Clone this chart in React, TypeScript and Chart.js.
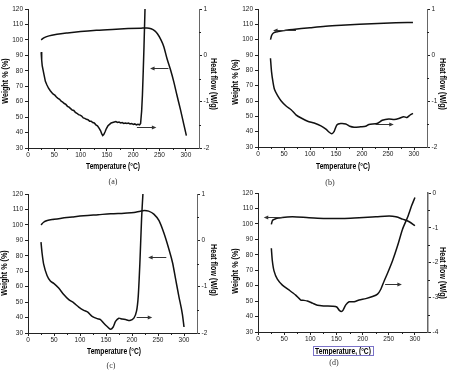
import React, { useEffect, useRef } from "react";
import { Chart, registerables } from "chart.js";

Chart.register(...registerables);

const FONT = "'Liberation Sans', Arial, Helvetica, sans-serif";

// ---- shared axis ticks ----
const temperatureTicks = [0, 50, 100, 150, 200, 250, 300];
const temperatureMinor = [25, 75, 125, 175, 225, 275];
const weightTicks = [30, 40, 50, 60, 70, 80, 90, 100, 110, 120];
const heatTicksABC = [-2, -1, 0, 1];
const heatMinorABC = [-1.5, -0.5, 0.5];
const heatTicksD = [-4, -3, -2, -1, 0];
const heatMinorD = [-3.5, -2.5, -1.5, -0.5];

// ---- (a) ----
const tempWeightA = [25, 30, 40, 55, 75, 100, 130, 160, 190, 215, 226, 234, 241, 246, 252, 258, 264, 271, 277, 283, 290, 296, 301];
const weightA = [100, 101.3, 102.6, 103.6, 104.5, 105.4, 106.2, 106.8, 107.3, 107.6, 107.7, 107.2, 105.8, 104, 100.5, 95.7, 88.1, 80.5, 73, 64.3, 54.5, 45.5, 38];
const tempHeatA = [
  25, 26, 27, 28.7, 30.5, 33, 36, 39, 42, 45, 48, 51, 54, 57, 60, 63, 66, 69, 72, 75, 78, 81, 84, 87, 90, 93, 96, 99,
  102, 105, 108, 111, 114, 117, 120, 123, 126, 129, 132, 135, 138, 140, 142, 144, 146.5, 149, 152, 155, 158, 161, 164,
  167, 170, 173, 176, 179, 182, 185, 188, 191, 194, 197, 200, 203, 206, 209, 212, 214, 216, 217.5, 219, 220.5, 222.5,
];
const heatA = [
  0.07, -0.1, -0.22, -0.32, -0.42, -0.56, -0.64, -0.71, -0.76, -0.8, -0.84, -0.86, -0.9, -0.93, -0.95, -0.99, -1.01,
  -1.04, -1.06, -1.1, -1.12, -1.15, -1.18, -1.19, -1.23, -1.25, -1.28, -1.29, -1.31, -1.35, -1.36, -1.38, -1.39, -1.42,
  -1.42, -1.45, -1.46, -1.5, -1.52, -1.57, -1.63, -1.69, -1.73, -1.71, -1.65, -1.58, -1.52, -1.49, -1.46, -1.45, -1.44,
  -1.43, -1.45, -1.44, -1.46, -1.45, -1.47, -1.46, -1.47, -1.46, -1.48, -1.47, -1.49, -1.48, -1.5, -1.49, -1.5, -1.47,
  -1.2, -0.85, -0.35, 0.2, 1.05,
];

// ---- (b) ----
const tempWeightB = [24, 26, 28, 31, 36, 42, 50, 60, 75, 100, 130, 160, 195, 230, 265, 298];
const weightB = [100, 102.5, 103.8, 104.6, 105.1, 105.5, 105.9, 106.4, 107, 107.8, 108.7, 109.4, 110.1, 110.6, 111, 111.2];
const tempHeatB = [
  24, 26, 28.7, 31.8, 38, 44.6, 54, 63.7, 73, 83, 95.5, 108, 121, 130.6, 137, 142, 146.5, 151.6, 159, 168.8, 176.4,
  184.7, 197.5, 207, 213.4, 229, 239, 251.6, 262, 270.7, 280.3, 286.6, 292, 298,
];
const heatB = [
  -0.07, -0.36, -0.58, -0.75, -0.89, -1.0, -1.11, -1.19, -1.3, -1.37, -1.44, -1.48, -1.54, -1.61, -1.68, -1.71, -1.66,
  -1.52, -1.49, -1.5, -1.55, -1.57, -1.56, -1.55, -1.51, -1.49, -1.42, -1.39, -1.4, -1.38, -1.34, -1.36, -1.31, -1.27,
];

// ---- (c) ----
const tempWeightC = [25, 30, 37, 50, 62, 85, 107, 135, 159, 185, 204, 216, 224, 232, 242, 252, 261, 271, 278, 284, 290, 297, 300];
const weightC = [100, 101.7, 102.8, 103.6, 104.2, 105.1, 105.9, 106.6, 107.2, 107.6, 108, 108.9, 109.3, 108.9, 107, 102.7, 95, 84.2, 75.5, 64.7, 53.9, 41.9, 33.9];
const tempHeatC = [
  25, 27, 30.2, 36.6, 43, 49.5, 59, 68.7, 78.4, 88, 97.6, 107.3, 115, 123.3, 133, 139.4, 145.8, 152.2, 158.6, 163.8,
  168.3, 174.7, 181, 187.5, 195.9, 203.6, 208.7, 212, 215.2, 218.4, 221, 222.5,
];
const heatC = [
  -0.04, -0.27, -0.52, -0.76, -0.88, -0.93, -1.03, -1.17, -1.28, -1.35, -1.44, -1.51, -1.55, -1.64, -1.69, -1.71, -1.79,
  -1.86, -1.92, -1.87, -1.75, -1.68, -1.7, -1.71, -1.73, -1.68, -1.53, -1.21, -0.48, 0.46, 1.0, 1.2,
];

// ---- (d) ----
const tempWeightD = [25.5, 27.4, 30, 33.8, 40, 46.6, 65.7, 97.6, 129.5, 161.5, 193.4, 225.3, 250.8, 263.6, 276.3, 289.1, 300];
const weightD = [99.7, 102, 102.8, 103.3, 103.8, 104.2, 104.6, 104, 103.5, 103.5, 104, 104.6, 105.1, 104.6, 103.1, 101.4, 98.8];
const tempHeatD = [
  25.5, 27.4, 30.6, 37, 46.6, 59.3, 72.1, 81.7, 88, 94.4, 104, 113.6, 126.4, 142.3, 150.6, 155.1, 159.5, 162.7, 167.8,
  174.2, 183.8, 193.4, 206.1, 218.9, 228.5, 234.8, 241.2, 247.6, 257.2, 266.8, 276.3, 285.9, 293.6, 300,
];
const heatD = [
  -1.59, -1.95, -2.24, -2.48, -2.65, -2.79, -2.94, -3.08, -3.09, -3.11, -3.17, -3.23, -3.25, -3.26, -3.28, -3.37, -3.41,
  -3.37, -3.22, -3.13, -3.13, -3.08, -3.04, -2.98, -2.91, -2.77, -2.53, -2.31, -1.95, -1.52, -1.04, -0.7, -0.37, -0.13,
];

const WEIGHT_TITLE = "Weight % (%)";
const HEAT_TITLE = "Heat flow (W/g)";

type Arrow = { from: [number, number]; to: [number, number] };

interface PanelSpec {
  label: string;
  left: number;
  top: number;
  width: number;
  height: number;
  area: { left: number; top: number; right: number; bottom: number };
  leftTitle: [number, number];
  rightTitle: [number, number];
  xTitleCenter: [number, number];
  labelX: number;
  labelY: number;
  xTitle: string;
  boxedXTitle?: boolean;
  weightT: number[];
  weight: number[];
  heatT: number[];
  heat: number[];
  heatTicks: number[];
  heatMinor: number[];
  arrows: Arrow[]; // in (temperature, weight %) coordinates
}

const panels: PanelSpec[] = [
  {
    label: "(a)", left: 0, top: 0, width: 226, height: 176,
    area: { left: 28, top: 9, right: 199, bottom: 148 },
    leftTitle: [6, 81], rightTitle: [213, 84], xTitleCenter: [113, 167], labelX: 113, labelY: 182,
    xTitle: "Temperature (°C)",
    weightT: tempWeightA, weight: weightA, heatT: tempHeatA, heat: heatA,
    heatTicks: heatTicksABC, heatMinor: heatMinorABC,
    arrows: [
      { from: [267, 82], to: [232, 82] },
      { from: [207, 43.7], to: [244, 43.7] },
    ],
  },
  {
    label: "(b)", left: 226, top: 0, width: 227, height: 176,
    area: { left: 32, top: 9, right: 201, bottom: 147 },
    leftTitle: [10, 82], rightTitle: [216.5, 84], xTitleCenter: [117, 167], labelX: 104, labelY: 183,
    xTitle: "Temperature (°C)",
    weightT: tempWeightB, weight: weightB, heatT: tempHeatB, heat: heatB,
    heatTicks: heatTicksABC, heatMinor: heatMinorABC,
    arrows: [
      { from: [73, 106], to: [29, 106] },
      { from: [226, 44.9], to: [261, 44.9] },
    ],
  },
  {
    label: "(c)", left: 0, top: 186, width: 226, height: 176,
    area: { left: 28, top: 8, right: 197, bottom: 147 },
    leftTitle: [5, 87], rightTitle: [213, 84], xTitleCenter: [114, 166], labelX: 111, labelY: 180,
    xTitle: "Temperature (°C)",
    weightT: tempWeightC, weight: weightC, heatT: tempHeatC, heat: heatC,
    heatTicks: heatTicksABC, heatMinor: heatMinorABC,
    arrows: [
      { from: [266, 79.2], to: [231, 79.2] },
      { from: [209, 40.2], to: [239, 40.2] },
    ],
  },
  {
    label: "(d)", left: 226, top: 186, width: 227, height: 176,
    area: { left: 32, top: 7, right: 202, bottom: 146 },
    leftTitle: [10, 85], rightTitle: [216.5, 87], xTitleCenter: [117, 165.4], labelX: 108, labelY: 177,
    xTitle: "Temperature, (°C)", boxedXTitle: true,
    weightT: tempWeightD, weight: weightD, heatT: tempHeatD, heat: heatD,
    heatTicks: heatTicksD, heatMinor: heatMinorD,
    arrows: [
      { from: [47, 104.3], to: [11, 104.3] },
      { from: [243, 61.4], to: [275, 61.4] },
    ],
  },
];

const TICK_FONT = { family: FONT, size: 6.5 };
const Y_TITLE_FONT = `bold 9px ${FONT}`;
const X_TITLE_FONT = `bold 8.4px ${FONT}`;
const TITLE_SQUEEZE = 0.8; // narrow lettering of the axis titles
const AXIS_COLOR = "#222";

function drawNarrowText(ctx: CanvasRenderingContext2D, text: string, x: number, y: number, rot: number, font: string) {
  ctx.save();
  ctx.translate(x, y);
  ctx.rotate(rot);
  ctx.scale(TITLE_SQUEEZE, 1);
  ctx.font = font;
  ctx.fillStyle = "#000";
  ctx.textAlign = "center";
  ctx.textBaseline = "middle";
  ctx.fillText(text, 0, 0);
  const w = ctx.measureText(text).width * TITLE_SQUEEZE;
  ctx.restore();
  return w;
}

function decorations(spec: PanelSpec) {
  return {
    id: "decorations",
    afterDatasetsDraw(chart: any) {
      const { ctx, scales } = chart;
      const x = scales.x;
      const y = scales.y;
      ctx.save();
      ctx.strokeStyle = "#333";
      ctx.fillStyle = "#333";
      ctx.lineWidth = 1;
      for (const a of spec.arrows) {
        const x1 = x.getPixelForValue(a.from[0]);
        const y1 = Math.round(y.getPixelForValue(a.from[1])) + 0.5;
        const x2 = x.getPixelForValue(a.to[0]);
        const y2 = Math.round(y.getPixelForValue(a.to[1])) + 0.5;
        const dir = Math.sign(x2 - x1) || 1;
        ctx.beginPath();
        ctx.moveTo(x1, y1);
        ctx.lineTo(x2 - dir * 3, y2);
        ctx.stroke();
        ctx.beginPath();
        ctx.moveTo(x2, y2);
        ctx.lineTo(x2 - dir * 4.5, y2 - 2);
        ctx.lineTo(x2 - dir * 4.5, y2 + 2);
        ctx.closePath();
        ctx.fill();
      }
      ctx.restore();
    },
    afterDraw(chart: any) {
      const { ctx, scales, chartArea } = chart;
      const x = scales.x;
      const y2 = scales.y2;
      ctx.save();
      ctx.strokeStyle = AXIS_COLOR;
      ctx.lineWidth = 1;
      ctx.beginPath();
      for (const v of temperatureMinor) {
        const px = Math.round(x.getPixelForValue(v)) + 0.5;
        ctx.moveTo(px, chartArea.bottom);
        ctx.lineTo(px, chartArea.bottom + 2);
      }
      for (const v of spec.heatMinor) {
        const py = Math.round(y2.getPixelForValue(v)) + 0.5;
        ctx.moveTo(chartArea.right, py);
        ctx.lineTo(chartArea.right + 2, py);
      }
      ctx.stroke();
      ctx.restore();

      // axis titles
      drawNarrowText(ctx, WEIGHT_TITLE, spec.leftTitle[0], spec.leftTitle[1], -Math.PI / 2, Y_TITLE_FONT);
      drawNarrowText(ctx, HEAT_TITLE, spec.rightTitle[0], spec.rightTitle[1], Math.PI / 2, Y_TITLE_FONT);
      const [cx, cy] = spec.xTitleCenter;
      const w = drawNarrowText(ctx, spec.xTitle, cx, cy, 0, X_TITLE_FONT);

      if (spec.boxedXTitle) {
        ctx.save();
        ctx.strokeStyle = "#7a72c8";
        ctx.lineWidth = 1;
        ctx.strokeRect(Math.round(cx - w / 2 - 2) + 0.5, Math.round(cy - 5) + 0.5, Math.round(w + 4), 9);
        ctx.restore();
      }
    },
  };
}

function Panel({ spec }: { spec: PanelSpec }) {
  const ref = useRef<HTMLCanvasElement>(null);

  useEffect(() => {
    const canvas = ref.current;
    if (!canvas) return;
    const { area, width, height } = spec;

    const chart = new Chart(canvas, {
      type: "line",
      data: {
        datasets: [
          {
            label: WEIGHT_TITLE,
            data: spec.weightT.map((t, i) => ({ x: t, y: spec.weight[i] })),
            yAxisID: "y",
            borderColor: "#111",
            borderWidth: 1.5,
            pointRadius: 0,
            cubicInterpolationMode: "monotone",
            fill: false,
          },
          {
            label: HEAT_TITLE,
            data: spec.heatT.map((t, i) => ({ x: t, y: spec.heat[i] })),
            yAxisID: "y2",
            borderColor: "#111",
            borderWidth: 1.5,
            pointRadius: 0,
            tension: spec.label === "(a)" ? 0 : 0.25,
            fill: false,
          },
        ],
      },
      options: {
        animation: false,
        responsive: false,
        maintainAspectRatio: false,
        events: [],
        layout: { padding: { top: area.top, left: 0, right: 0, bottom: 0 } },
        plugins: { legend: { display: false }, tooltip: { enabled: false } },
        scales: {
          x: {
            type: "linear",
            min: 0,
            max: 325,
            border: { display: true, color: AXIS_COLOR, width: 1 },
            grid: { display: true, drawOnChartArea: false, drawTicks: true, tickLength: 3, color: AXIS_COLOR },
            ticks: { font: TICK_FONT, color: AXIS_COLOR, padding: 0, maxRotation: 0, autoSkip: false },
            afterBuildTicks: (axis: any) => {
              axis.ticks = temperatureTicks.map((v) => ({ value: v }));
            },
            title: { display: false },
            afterFit: (axis: any) => {
              axis.height = height - area.bottom;
            },
          },
          y: {
            type: "linear",
            position: "left",
            min: 30,
            max: 120,
            border: { display: true, color: AXIS_COLOR, width: 1 },
            grid: { display: true, drawOnChartArea: false, drawTicks: true, tickLength: 3, color: AXIS_COLOR },
            ticks: { font: TICK_FONT, color: AXIS_COLOR, padding: 2, autoSkip: false },
            afterBuildTicks: (axis: any) => {
              axis.ticks = weightTicks.map((v) => ({ value: v }));
            },
            title: { display: false },
            afterFit: (axis: any) => {
              axis.width = area.left;
            },
          },
          y2: {
            type: "linear",
            position: "right",
            min: spec.heatTicks[0],
            max: spec.heatTicks[spec.heatTicks.length - 1],
            border: { display: true, color: "#666", width: spec.boxedXTitle ? 1.5 : 1 },
            grid: { display: true, drawOnChartArea: false, drawTicks: true, tickLength: 3, color: AXIS_COLOR },
            ticks: { font: TICK_FONT, color: AXIS_COLOR, padding: 1.5, autoSkip: false },
            afterBuildTicks: (axis: any) => {
              axis.ticks = spec.heatTicks.map((v) => ({ value: v }));
            },
            title: { display: false },
            afterFit: (axis: any) => {
              axis.width = width - area.right;
            },
          },
        },
      },
      plugins: [decorations(spec)],
    } as any);

    return () => chart.destroy();
  }, [spec]);

  return (
    <canvas
      ref={ref}
      width={spec.width}
      height={spec.height}
      style={{ position: "absolute", left: spec.left, top: spec.top, width: spec.width, height: spec.height }}
    />
  );
}

export default function App() {
  return (
    <div
      style={{
        position: "absolute",
        left: 0,
        top: 0,
        width: 453,
        height: 372,
        background: "#fff",
        overflow: "hidden",
      }}
    >
      {panels.map((p) => (
        <Panel key={p.label} spec={p} />
      ))}
      {panels.map((p) => (
        <div
          key={"lbl" + p.label}
          style={{
            position: "absolute",
            left: p.left + p.labelX,
            top: p.top + p.labelY,
            transform: "translate(-50%, -50%)",
            fontFamily: "'Liberation Serif', 'Times New Roman', serif",
            fontSize: 8,
            lineHeight: "10px",
            color: "#333",
            whiteSpace: "nowrap",
          }}
        >
          {p.label}
        </div>
      ))}
    </div>
  );
}
